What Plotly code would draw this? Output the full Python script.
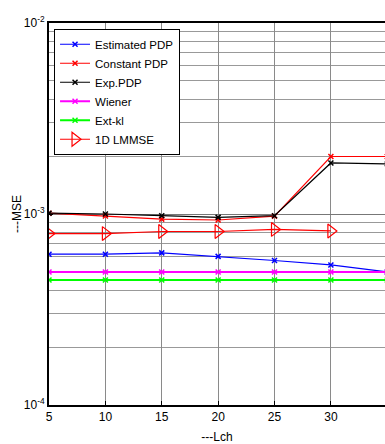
import plotly.graph_objects as go

lch = [5, 10, 15, 20, 25, 30, 35]
est_pdp = [0.616e-3, 0.616e-3, 0.626e-3, 0.600e-3, 0.571e-3, 0.541e-3, 0.497e-3]
const_pdp = [1.01e-3, 0.977e-3, 0.94e-3, 0.93e-3, 0.975e-3, 2.0e-3, 2.0e-3]
exp_pdp = [1.01e-3, 1.0e-3, 0.98e-3, 0.96e-3, 0.98e-3, 1.85e-3, 1.83e-3]
wiener = [0.497e-3] * 7
ext_kl = [0.451e-3] * 7
lch_lmmse = [5, 10, 15, 20, 25, 30]
lmmse_1d = [0.79e-3, 0.79e-3, 0.81e-3, 0.81e-3, 0.83e-3, 0.815e-3]

FONT = "Liberation Sans, Arial, sans-serif"

fig = go.Figure()
series = [
    ("Estimated PDP", lch, est_pdp, "#0000ff", 1.2),
    ("Constant PDP", lch, const_pdp, "#ff0000", 1.2),
    ("Exp.PDP", lch, exp_pdp, "#000000", 1.2),
    ("Wiener", lch, wiener, "#ff00ff", 2),
    ("Ext-kl", lch, ext_kl, "#00ff00", 2),
]
for name, x, y, c, w in series:
    fig.add_trace(go.Scatter(
        x=x, y=y, name=name, mode="lines+markers",
        line=dict(color=c, width=w),
        marker=dict(symbol="x-thin-open", size=5, color=c, line=dict(color=c, width=1.5)),
    ))
fig.add_trace(go.Scatter(
    x=lch_lmmse, y=lmmse_1d, name="1D LMMSE", mode="lines+markers",
    line=dict(color="#ff0000", width=1.2),
    marker=dict(symbol="triangle-right-open", size=12, color="#ff0000",
                line=dict(color="#ff0000", width=1.2)),
))

minor_vals = [m * 10 ** e for e in (-4, -3) for m in range(2, 10)]

fig.update_layout(
    width=385, height=444,
    margin=dict(l=49, r=0, t=23, b=39),
    paper_bgcolor="white", plot_bgcolor="white",
    font=dict(family=FONT, size=12, color="black"),
    showlegend=True,
    legend=dict(
        x=0.015, y=0.985, xanchor="left", yanchor="top",
        bgcolor="white", bordercolor="black", borderwidth=1,
        font=dict(family=FONT, size=11.5, color="black"),
        itemwidth=30, tracegroupgap=0,
    ),
    xaxis=dict(
        range=[5, 34.8], tickvals=[5, 10, 15, 20, 25, 30, 35],
        showline=True, linecolor="black", linewidth=2, mirror=True,
        showgrid=True, gridcolor="#8a8a8a", gridwidth=1,
        ticks="inside", ticklen=4, tickcolor="black",
        zeroline=False,
        title=dict(text="---Lch", font=dict(family=FONT, size=12), standoff=9),
        tickfont=dict(family=FONT, size=12),
    ),
    yaxis=dict(
        type="log", range=[-4, -2],
        tickvals=[1e-4, 1e-3, 1e-2],
        ticktext=["10<sup>-4</sup>", "10<sup>-3</sup>", "10<sup>-2</sup>"],
        showline=True, linecolor="black", linewidth=2, mirror=False,
        showgrid=True, gridcolor="#777777", gridwidth=1,
        ticks="inside", ticklen=4, tickcolor="black",
        minor=dict(tickmode="array", tickvals=minor_vals, showgrid=True,
                   gridcolor="#999999", gridwidth=1, ticks=""),
        zeroline=False,
        title=dict(text="---MSE", font=dict(family=FONT, size=12), standoff=0),
        tickfont=dict(family=FONT, size=12),
    ),
)

fig.write_html("out.html")
